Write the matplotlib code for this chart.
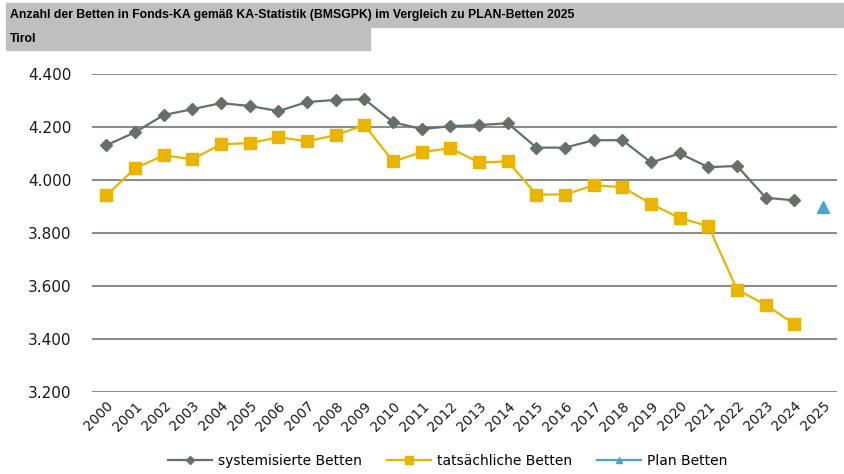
import matplotlib
matplotlib.use("Agg")
import matplotlib.pyplot as plt
from matplotlib.patches import Rectangle
from matplotlib.ticker import FuncFormatter

years = [str(y) for y in range(2000, 2026)]

# systemisierte Betten 2000-2024
system_beds = [4131, 4180, 4245, 4267, 4290, 4279, 4260, 4294, 4302, 4305,
               4218, 4192, 4203, 4207, 4214, 4122, 4122, 4150, 4150, 4066,
               4100, 4048, 4053, 3933, 3923]
# tatsaechliche Betten 2000-2024
actual_beds = [3942, 4044, 4093, 4078, 4135, 4139, 4161, 4146, 4169, 4207,
               4070, 4105, 4120, 4066, 4070, 3945, 3945, 3980, 3973, 3910,
               3856, 3826, 3586, 3529, 3456]
plan_year = ["2025"]
plan_beds = [3897]

title = "Anzahl der Betten in Fonds-KA gemäß KA-Statistik (BMSGPK) im Vergleich zu PLAN-Betten 2025"
region = "Tirol"

grey = "#647068"
yellow = "#E9B500"
blue = "#4AA5CB"


def de_thousands(v, pos):
    # German style: 4.400
    return f"{int(round(v)):,}".replace(",", ".")


fig = plt.figure(figsize=(8.45, 4.74), dpi=100)
ax = fig.add_axes([0.109, 0.173, 0.882, 0.671])

x_all = list(range(len(years)))
ax.plot(x_all[:len(system_beds)], system_beds, color=grey, lw=1.6, marker="D",
        ms=6.5, label="systemisierte Betten", zorder=4)
ax.plot(x_all[:len(actual_beds)], actual_beds, color=yellow, lw=1.6, marker="s",
        ms=8.5, label="tatsächliche Betten", zorder=3)
ax.plot([years.index(y) for y in plan_year], plan_beds, color=blue, lw=1.6,
        marker="^", ms=8, linestyle="-", label="Plan Betten", zorder=5)

ax.set_xlim(-0.5, len(years) - 0.5)
ax.set_ylim(3200, 4400)
ax.set_yticks(range(3200, 4401, 200))
ax.yaxis.set_major_formatter(FuncFormatter(de_thousands))
ax.set_xticks(x_all)
ax.set_xticklabels(years, rotation=45, ha="right", rotation_mode="anchor")
ax.grid(axis="y", color="#8C8C8C", lw=1.5)
ax.set_axisbelow(True)
for s in ax.spines.values():
    s.set_visible(False)
ax.tick_params(length=0, labelsize=10, colors="#1a1a1a")
ax.tick_params(axis="y", labelsize=11, pad=15)
ax.tick_params(axis="x", pad=5)

# header bands
fig.patches.append(Rectangle((6 / 845, 1 - 27 / 474), 839 / 845, 24 / 474,
                             transform=fig.transFigure, color="#BFBFBF", zorder=0))
fig.patches.append(Rectangle((6 / 845, 1 - 50 / 474), 364 / 845, 22 / 474,
                             transform=fig.transFigure, color="#BFBFBF", zorder=0))
fig.text(10 / 845, 1 - 15 / 474, title, fontsize=8.8, fontweight="bold",
         family="Liberation Sans", va="center")
fig.text(10 / 845, 1 - 39 / 474, region, fontsize=8.8, fontweight="bold",
         family="Liberation Sans", va="center")

ax.legend(loc="center", bbox_to_anchor=(0.477, -0.217), ncol=3, frameon=False,
          fontsize=10, handlelength=3.2, columnspacing=1.8, handletextpad=0.4,
          markerscale=0.6)

fig.savefig("out.png", dpi=100)
